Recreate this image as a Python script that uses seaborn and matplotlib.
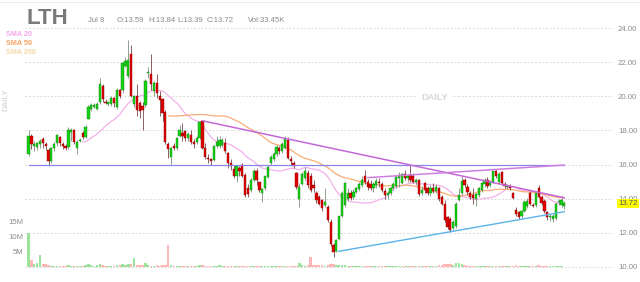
import numpy as np
import pandas as pd
import matplotlib
matplotlib.use("Agg")
import matplotlib.pyplot as plt
import matplotlib.transforms as mtransforms
from matplotlib.lines import Line2D
import seaborn as sns

# ---------------- data ----------------
ticker = "LTH"
info_date = "Jul 8"
info_items = ["O:13.59", "H:13.84", "L:13.39", "C:13.72", "Vol:33.45K"]
last_close = 13.72

month_labels = ["Nov", "Dec", "2022", "Feb", "Mar", "Apr", "May", "Jun", "Jul"]
month_start_idx = [17, 38, 60, 80, 99, 122, 142, 163, 184]
price_ticks = [10, 12, 14, 16, 18, 20, 22, 24]
volume_ticks = [5e6, 10e6, 15e6]
volume_tick_labels = ["5M", "10M", "15M"]

opens = [
    # Oct
    16.6, 17.7, 17.1, 17.05, 17.2, 17.5, 17.2, 16.85, 16.2, 16.95, 17.25, 17.6, 17.2, 17.1, 17.05, 17.9, 18.05,
    # Nov
    17.0, 17.4, 17.85, 17.6, 18.7, 19.24, 19.4, 19.24, 19.65, 20.6, 19.7, 19.55, 19.55, 19.9, 19.4, 20.35, 20.35, 21.8, 21.2, 22.5, 19.55,
    # Dec
    20.05, 19.6, 19.45, 19.5, 21.4, 21.3, 20.3, 20.8, 20.0, 19.83, 19.1, 17.2, 16.45, 17.1, 16.95, 17.65, 17.85, 17.95, 17.55, 17.75, 17.3, 17.3,
    # Jan
    17.55, 18.55, 16.95, 16.4, 16.3, 16.25, 17.1, 17.1, 17.15, 17.27, 16.7, 16.1, 15.75, 15.3, 15.8, 16.0, 15.4, 14.6, 14.5, 15.1,
    # Feb
    15.6, 14.95, 14.3, 14.6, 15.25, 16.1, 16.3, 16.6, 16.95, 16.8, 17.0, 17.45, 16.35, 16.1, 15.5, 14.0, 14.85, 15.2, 15.5,
    # Mar
    15.3, 14.8, 14.3, 14.1, 13.9, 13.6, 13.5, 12.6, 11.25, 10.95, 11.65, 12.95, 13.6, 14.0, 14.3, 14.1, 14.4, 14.55, 14.8, 15.3, 15.0, 14.85, 14.6,
    # Apr
    14.8, 15.0, 14.85, 14.45, 14.2, 14.3, 14.6, 14.75, 15.2, 14.9, 15.45, 15.2, 15.4, 15.3, 15.0, 15.1, 14.3, 14.9, 14.6, 14.35,
    # May
    14.6, 14.45, 14.6, 14.1, 13.7, 12.9, 12.8, 12.3, 12.4, 13.9, 14.3, 15.1, 14.7, 14.35, 14.2, 14.0, 14.2, 14.5, 14.85, 15.1, 14.8,
    # Jun
    14.95, 15.6, 14.95, 15.55, 14.85, 14.7, 14.75, 14.35, 13.35, 13.2, 12.95, 13.3, 13.55, 14.3, 13.6, 13.6, 14.65, 14.1, 13.85, 13.2, 12.9,
    # Jul
    12.8, 12.85, 13.8, 13.6, 13.59,
]
highs = [
    18.05, 17.8, 17.4, 17.35, 17.5, 17.6, 17.35, 17.0, 17.05, 17.3, 17.8, 17.7, 17.35, 17.2, 18.2, 18.15, 18.1,
    17.45, 17.55, 17.95, 18.3, 19.5, 19.6, 19.6, 19.65, 21.1, 20.7, 19.85, 19.75, 20.0, 19.95, 20.5, 20.45, 22.0, 22.3, 23.3, 23.0, 20.1,
    20.7, 19.75, 19.7, 21.0, 21.7, 22.5, 20.9, 21.3, 20.3, 19.9, 19.2, 17.3, 17.05, 17.25, 17.6, 18.3, 18.45, 18.05, 17.9, 18.0, 17.5, 17.65,
    18.55, 18.6, 17.25, 16.6, 16.4, 17.1, 17.65, 17.7, 17.55, 17.55, 16.75, 16.3, 16.0, 16.0, 15.9, 16.1, 15.5, 14.85, 15.2, 15.75,
    15.8, 15.0, 14.6, 15.35, 15.95, 16.55, 16.75, 17.15, 17.1, 17.3, 17.68, 17.6, 16.5, 16.2, 15.55, 14.9, 15.55, 15.85, 15.7,
    15.5, 15.1, 14.45, 14.2, 14.0, 14.6, 13.6, 12.8, 11.4, 11.65, 13.0, 14.45, 15.0, 14.6, 14.5, 14.55, 14.7, 14.95, 15.3, 15.7, 15.15, 15.1, 15.0,
    15.2, 15.2, 15.0, 14.6, 14.45, 14.7, 14.95, 15.35, 15.55, 15.5, 15.7, 15.45, 15.95, 15.5, 15.2, 15.15, 14.75, 15.0, 14.75, 14.8,
    14.9, 14.85, 14.7, 14.2, 13.9, 13.0, 12.9, 12.75, 13.8, 14.6, 15.3, 15.2, 14.85, 14.45, 14.6, 14.35, 14.7, 15.0, 15.2, 15.25, 15.1,
    15.7, 15.7, 15.55, 15.65, 15.0, 14.85, 14.85, 14.4, 13.5, 13.3, 13.35, 13.9, 14.05, 14.45, 13.75, 14.35, 14.8, 14.2, 13.95, 13.3, 13.1,
    13.1, 13.8, 14.0, 14.15, 13.84,
]
lows = [
    16.5, 16.9, 16.8, 16.85, 17.0, 16.95, 16.85, 15.9, 16.1, 16.8, 17.1, 17.1, 16.9, 16.85, 16.9, 17.4, 17.2,
    16.6, 17.3, 17.5, 17.55, 18.65, 19.15, 19.3, 19.2, 19.55, 19.7, 19.55, 19.45, 19.45, 19.4, 19.25, 19.9, 20.2, 21.7, 21.1, 19.95, 19.4,
    18.85, 18.75, 18.05, 19.4, 21.1, 20.4, 20.0, 19.9, 18.85, 18.55, 17.2, 16.4, 15.98, 16.85, 16.85, 17.6, 17.4, 17.4, 17.4, 17.2, 16.95, 17.2,
    17.5, 16.9, 16.35, 16.1, 15.98, 16.2, 17.0, 17.0, 17.05, 16.7, 15.8, 15.7, 15.2, 15.0, 15.3, 15.25, 14.1, 14.1, 14.4, 15.0,
    14.8, 14.4, 13.8, 14.5, 15.2, 16.0, 16.2, 16.5, 16.6, 16.65, 16.9, 16.3, 16.0, 15.8, 14.55, 13.5, 14.8, 15.1, 14.6,
    14.4, 14.4, 13.75, 13.6, 13.3, 13.5, 12.6, 11.2, 10.55, 10.85, 11.55, 12.9, 13.5, 13.85, 13.9, 14.0, 14.3, 14.45, 14.7, 14.85, 14.5, 14.5, 14.4,
    14.65, 14.7, 14.4, 13.95, 14.0, 14.2, 14.5, 14.65, 14.7, 14.85, 15.1, 15.0, 15.0, 14.9, 14.8, 14.15, 14.2, 14.35, 14.2, 14.15,
    14.3, 14.35, 13.85, 13.6, 12.6, 12.2, 12.05, 12.15, 12.3, 13.85, 14.2, 14.7, 14.2, 13.95, 13.7, 13.55, 14.1, 14.4, 14.7, 14.65, 14.7,
    14.9, 15.2, 14.9, 14.85, 14.6, 14.55, 14.5, 13.95, 13.0, 12.8, 12.85, 13.2, 13.45, 13.6, 13.5, 13.5, 14.05, 13.6, 13.15, 12.75, 12.7,
    12.65, 12.75, 13.6, 13.5, 13.39,
]
closes = [
    17.7, 17.2, 17.2, 17.25, 17.4, 17.25, 17.1, 16.2, 16.95, 17.2, 17.75, 17.25, 17.1, 17.0, 18.0, 18.05, 17.35,
    17.35, 17.45, 17.6, 18.2, 19.4, 19.48, 19.5, 19.55, 20.7, 19.83, 19.63, 19.67, 19.9, 19.64, 20.4, 20.0, 21.95, 22.1, 22.15, 20.0, 20.05,
    19.2, 19.15, 19.2, 20.9, 21.45, 20.7, 20.8, 20.2, 19.8, 19.04, 17.35, 16.9, 16.95, 16.95, 17.55, 18.05, 17.7, 17.55, 17.8, 17.35, 17.2, 17.55,
    18.5, 16.95, 16.45, 16.3, 16.2, 17.07, 17.3, 17.45, 17.45, 16.78, 16.1, 15.9, 15.3, 15.9, 15.6, 15.3, 14.2, 14.25, 15.1, 15.6,
    15.1, 14.5, 14.55, 15.3, 15.85, 16.45, 16.6, 17.05, 16.8, 17.2, 17.5, 16.4, 16.2, 15.9, 14.7, 14.7, 15.45, 15.6, 14.8,
    14.5, 14.6, 13.9, 13.7, 13.45, 13.8, 12.75, 11.35, 10.85, 11.55, 12.95, 14.3, 14.9, 14.3, 14.05, 14.4, 14.6, 14.85, 15.1, 15.0, 14.7, 14.6, 14.85,
    15.05, 14.9, 14.5, 14.2, 14.35, 14.6, 14.85, 15.25, 15.4, 15.45, 15.2, 15.35, 15.1, 15.0, 15.1, 14.25, 14.5, 14.5, 14.3, 14.6,
    14.45, 14.7, 13.95, 13.7, 12.75, 12.35, 12.15, 12.6, 13.7, 14.2, 15.05, 14.8, 14.4, 14.1, 14.05, 14.25, 14.6, 14.9, 15.1, 14.75, 15.0,
    15.6, 15.3, 15.45, 14.9, 14.75, 14.75, 14.6, 14.05, 13.1, 12.9, 13.3, 13.8, 13.85, 13.7, 13.55, 14.3, 14.1, 13.75, 13.25, 12.9, 13.0,
    12.95, 13.7, 13.85, 13.9, 13.72,
]
volumes_m = [
    11.3, 2.2, 1.0, 1.2, 3.8, 0.8, 0.8, 0.6, 0.3, 0.3, 0.4, 0.4, 0.3, 0.3, 0.6, 0.4, 0.4,
    0.4, 0.3, 0.4, 0.5, 0.9, 0.6, 0.4, 0.5, 0.9, 0.6, 0.4, 0.3, 0.4, 0.3, 0.7, 0.5, 1.0, 0.6, 0.9, 0.8, 2.8,
    0.6, 0.6, 0.5, 1.2, 0.5, 0.4, 0.4, 0.5, 0.4, 0.6, 0.6, 7.2, 0.5, 0.4, 0.4, 0.3, 0.3, 0.3, 0.2, 0.2, 0.3, 0.3,
    0.5, 0.5, 0.4, 0.3, 0.3, 0.4, 0.3, 0.5, 0.4, 0.4, 0.3, 0.3, 0.3, 0.3, 0.3, 0.3, 0.4, 0.3, 0.3, 0.3,
    0.3, 0.3, 0.3, 0.3, 0.3, 0.4, 0.3, 0.3, 0.3, 0.3, 0.4, 0.4, 0.3, 0.3, 0.4, 1.2, 0.5, 0.4, 0.6,
    3.1, 0.6, 0.5, 0.5, 0.6, 0.4, 0.7, 0.8, 0.8, 0.5, 0.6, 0.7, 0.5, 0.4, 0.4, 0.4, 0.3, 0.4, 0.4, 0.4, 0.3, 0.3, 0.3,
    0.3, 0.3, 0.3, 0.3, 0.3, 0.3, 0.3, 0.3, 0.4, 0.3, 0.3, 0.3, 0.4, 0.3, 0.3, 0.4, 0.3, 0.3, 0.3, 0.3,
    0.3, 0.3, 0.5, 0.5, 0.8, 0.9, 0.9, 0.7, 1.2, 1.1, 1.0, 0.5, 0.4, 0.4, 0.4, 0.4, 0.3, 0.3, 0.3, 0.3, 0.3,
    0.4, 0.3, 0.3, 0.3, 0.3, 0.2, 0.2, 0.3, 0.5, 0.4, 0.3, 0.3, 0.3, 0.3, 0.2, 0.3, 0.6, 0.3, 0.4, 0.3, 0.3,
    0.3, 0.3, 0.2, 0.2, 0.03,
]

# drawn trendlines: (bar index, price) endpoints
hline_idx = [0, 188]
hline_price = [16.0, 16.0]
down_idx = [61, 188]
down_price = [18.57, 14.05]
upper_idx = [119, 188]
upper_price = [15.23, 15.97]
support_idx = [108.7, 188]
support_price = [10.9, 13.23]

n = len(closes)
assert len(opens) == len(highs) == len(lows) == len(volumes_m) == n

df = pd.DataFrame({"idx": np.arange(n), "open": opens, "high": highs,
                   "low": lows, "close": closes,
                   "volume": np.array(volumes_m) * 1e6})
df["sma20"] = df["close"].rolling(20).mean()
df["sma50"] = df["close"].rolling(50).mean()
df["up"] = df["close"] >= df["open"]

# ---------------- style ----------------
sns.set_style("white")
plt.rcParams["font.family"] = ["Liberation Sans", "DejaVu Sans"]

W, H = 640, 282
fig = plt.figure(figsize=(W / 100, H / 100), dpi=100)
fig.patch.set_facecolor("white")

def fx(px):
    return px / W

def fy(py):
    return 1 - py / H

ax_l, ax_r, ax_t, ax_b = 25, 613, 28, 269
ax = fig.add_axes([fx(ax_l), fy(ax_b), (ax_r - ax_l) / W, (ax_b - ax_t) / H])
axv = ax.twinx()
ax.set_zorder(axv.get_zorder() + 1)
ax.patch.set_visible(False)

px_per_bar = 2.85
x0_px = 28.55
ax.set_xlim((ax_l - x0_px) / px_per_bar, (ax_r - x0_px) / px_per_bar)
px_per_unit = 17.03
y24 = 28.3
ax.set_ylim(24 - (ax_b - y24) / px_per_unit, 24 + (y24 - ax_t) / px_per_unit)
vol0_px = 266.7
vol_px_per_m = 3.0
axv.set_ylim(-(ax_b - vol0_px) / vol_px_per_m * 1e6, (vol0_px - ax_t) / vol_px_per_m * 1e6)

for a in (ax, axv):
    for s in a.spines.values():
        s.set_visible(False)

# grid
grid_kw = dict(color="#d3d3d3", lw=0.6, ls=(0, (2.2, 2.2)))
ax.set_yticks(price_ticks)
ax.set_yticklabels([f"{t:.2f}" for t in price_ticks])
ax.set_xticks(month_start_idx)
ax.set_xticklabels(month_labels)
ax.grid(True, axis="both", **grid_kw)
ax.set_axisbelow(True)
ax.yaxis.tick_right()
ax.tick_params(axis="y", length=0, pad=3.5, labelsize=5.6, labelcolor="#8c8c8c")
ax.tick_params(axis="x", length=0, pad=2.0, labelsize=6.2, labelcolor="#8c8c8c")

# volume
vol_colors = np.where(df["up"], "#9be39b", "#ffb6b6")
axv.bar(df["idx"], df["volume"], width=0.85, color=vol_colors, linewidth=0)
axv.yaxis.tick_left()
axv.set_yticks(volume_ticks)
axv.set_yticklabels(volume_tick_labels)
axv.tick_params(axis="y", length=0, pad=1.5, labelsize=5.6, labelcolor="#8c8c8c")
axv.set_xticks([])
axv.grid(False)

# SMA lines (seaborn)
sns.lineplot(data=df, x="idx", y="sma20", ax=ax, color="#f3b0ea", lw=0.9, zorder=2)
sns.lineplot(data=df, x="idx", y="sma50", ax=ax, color="#f8ad78", lw=0.9, zorder=2)

# candles
wick_colors = np.where(df["up"], "#7f8f7f", "#7a4646")
ax.vlines(df["idx"], df["low"], df["high"], colors=wick_colors, lw=0.6, zorder=3)
body_bottom = np.minimum(df["open"], df["close"])
body_h = np.maximum(np.abs(df["close"] - df["open"]), 0.04)
body_colors = np.where(df["up"], "#14d414", "#e00000")
edge_colors = np.where(df["up"], "#0b7d0b", "#8a0000")
ax.bar(df["idx"], body_h, bottom=body_bottom, width=0.8, color=body_colors,
       edgecolor=edge_colors, linewidth=0.3, zorder=3.5)

# trendlines (seaborn)
tl = [
    (hline_idx, hline_price, "#8a86e6", 0.9),
    (down_idx, down_price, "#c468d8", 1.1),
    (upper_idx, upper_price, "#cf7ee0", 1.1),
    (support_idx, support_price, "#5cb3e8", 1.0),
]
for xs, ys, col, lw in tl:
    sns.lineplot(x=xs, y=ys, ax=ax, color=col, lw=lw, zorder=4)
ax.set_xlabel("")
ax.set_ylabel("")
axv.set_ylabel("")

# last price label
trans = mtransforms.blended_transform_factory(ax.transAxes, ax.transData)
ax.text((618 - ax_l) / (ax_r - ax_l), last_close, f"{last_close:.2f}", transform=trans,
        ha="left", va="center", fontsize=5.6, color="#555555", zorder=10, clip_on=False,
        bbox=dict(boxstyle="square,pad=0.15", fc="#ffff00", ec="none"))

# watermarks
fig.text(fx(435), fy(97), "DAILY", ha="center", va="center", fontsize=6.6,
         fontweight="bold", color="#d6d6d6",
         bbox=dict(boxstyle="square,pad=0.35", fc="white", ec="none"), zorder=1)
fig.text(fx(6), fy(100), "DAILY", ha="center", va="center", rotation=90,
         fontsize=5.6, fontweight="bold", color="#d9d9d9")

# header
fig.text(fx(26), fy(24), ticker, fontsize=16, fontweight="bold", color="#7a7a7a",
         ha="left", va="baseline")
fig.text(fx(88), fy(22.5), info_date, fontsize=5.6, color="#8a8a8a", ha="left", va="baseline")
for xpx, s in zip([117, 148, 177.5, 207, 248], info_items):
    fig.text(fx(xpx), fy(22.5), s, fontsize=5.6, color="#8a8a8a", ha="left", va="baseline")

# SMA legend
for ypx, s, col in [(34.3, "SMA 20", "#f2a6e8"), (43.3, "SMA 50", "#f8a060"),
                    (52.0, "SMA 200", "#f1d9a6")]:
    fig.text(fx(5.5), fy(ypx), s, fontsize=5.2, color=col, ha="left", va="center",
             fontweight="bold")

fig.add_artist(Line2D([0, 1], [fy(1.5), fy(1.5)], transform=fig.transFigure,
                      color="#ececec", lw=0.8))

fig.savefig("out.png", dpi=100, facecolor="white")
